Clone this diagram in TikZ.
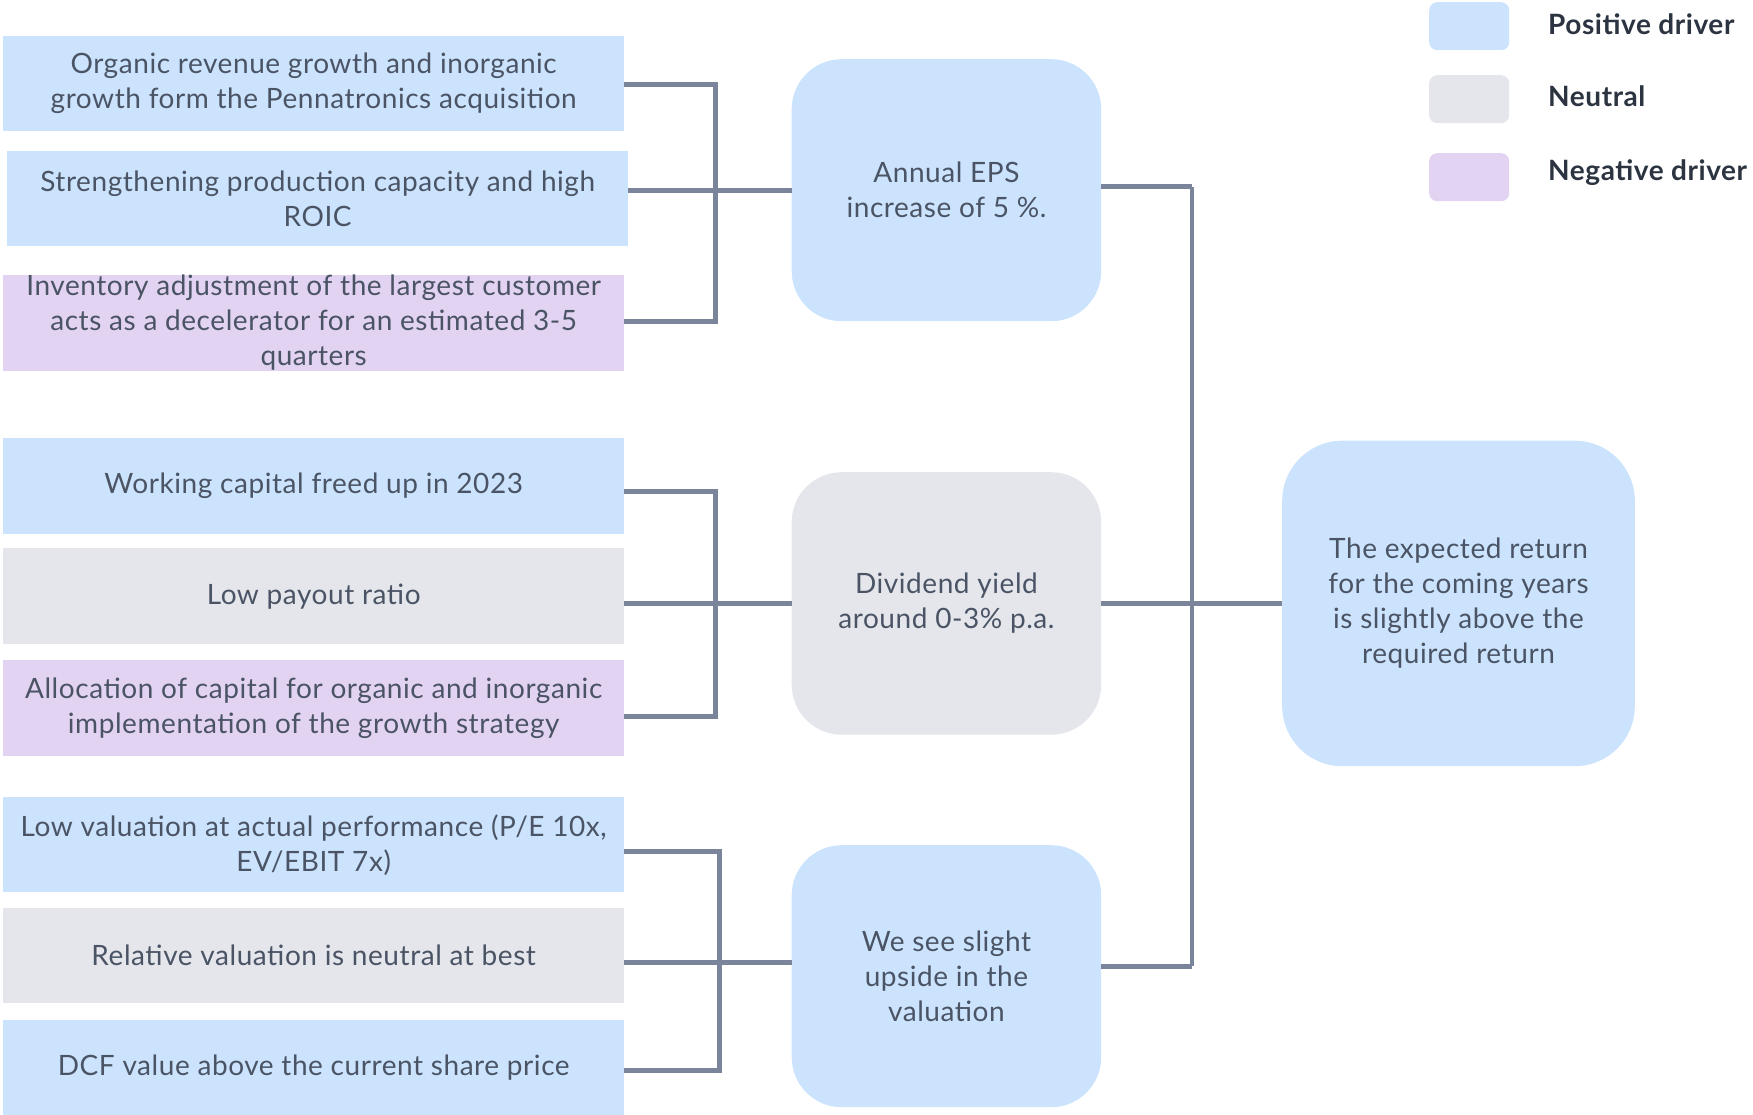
\documentclass[tikz,border=0pt]{standalone}
\usepackage{fontspec}
\setmainfont[LetterSpace=2]{Lato}
\usetikzlibrary{calc}
\definecolor{posc}{HTML}{CCE3FD}
\definecolor{neuc}{HTML}{E4E6EB}
\definecolor{negc}{HTML}{E3D3F3}
\definecolor{linec}{HTML}{7A849A}
\definecolor{txtc}{HTML}{4A5465}
\definecolor{legc}{HTML}{2B3440}
\begin{document}
\begin{tikzpicture}[x=1pt,y=-1pt,
  lbox/.style={anchor=north west, minimum width=621pt, minimum height=95pt, inner sep=0pt, align=center, text=txtc, font=\fontsize{28}{35}\selectfont},
  mbox/.style={anchor=north west, minimum width=309.5pt, minimum height=262pt, inner sep=0pt, rounded corners=50pt, align=center, text=txtc, font=\fontsize{28}{35}\selectfont},
  legsq/.style={anchor=north west, minimum width=80pt, minimum height=48pt, inner sep=0pt, rounded corners=8pt},
  legtx/.style={anchor=west, inner sep=0pt, text=legc, font=\bfseries\fontsize{28}{32}\selectfont},
  conn/.style={draw=linec, line width=5pt},
  thinconn/.style={draw=linec, line width=3.5pt}]
\useasboundingbox (0,0) rectangle (1753,1115);

% left boxes
\node[lbox, fill=posc] (b1) at (3,36) {Organic revenue growth and inorganic\\growth form the Pennatronics acquisition};
\node[lbox, fill=posc] (b2) at (7,151) {Strengthening production capacity and high\\ROIC};
\node[lbox, fill=negc] (b3) at (3,275) {Inventory adjustment of the largest customer\\acts as a decelerator for an estimated 3-5\\quarters};
\node[lbox, fill=posc, minimum height=96pt] (b4) at (3,438) {Working capital freed up in 2023};
\node[lbox, fill=neuc, minimum height=96pt] (b5) at (3,548) {Low payout ratio};
\node[lbox, fill=negc, minimum height=96pt] (b6) at (3,660) {Allocation of capital for organic and inorganic\\implementation of the growth strategy};
\node[lbox, fill=posc] (b7) at (3,797) {Low valuation at actual performance (P/E 10x,\\EV/EBIT 7x)};
\node[lbox, fill=neuc] (b8) at (3,908) {Relative valuation is neutral at best};
\node[lbox, fill=posc] (b9) at (3,1020) {DCF value above the current share price};

% middle boxes
\node[mbox, fill=posc] (eps) at (791.5,59) {Annual EPS\\increase of 5 \%.};
\node[mbox, fill=neuc, minimum height=262.5pt] (div) at (791.5,472) {Dividend yield\\around 0-3\% p.a.};
\node[mbox, fill=posc] (val) at (791.5,845) {We see slight\\upside in the\\valuation};

% final box
\node[mbox, fill=posc, minimum width=352.6pt, minimum height=325.5pt, rounded corners=60pt] (fin) at (1282,440.5) {The expected return\\for the coming years\\is slightly above the\\required return};

% legend
\node[legsq, fill=posc] (l1) at (1429,2) {};
\node[legsq, fill=neuc] (l2) at (1429,75) {};
\node[legsq, fill=negc] (l3) at (1429,153) {};
\node[legtx] (t1) at (1548,24) {Positive driver};
\node[legtx] (t2) at (1548,96) {Neutral};
\node[legtx] (t3) at (1548,173) {Negative driver};

% connectors group 1
\coordinate (g1t) at (715.5,85);
\coordinate (g1b) at (715.5,321);
\draw[conn] (b1.east |- g1t) -- (g1t) -- (g1b) -- (b3.east |- g1b);
\draw[conn] (b2.east |- eps.west) -- (eps.west);

% group 2
\coordinate (g2t) at (715.5,491);
\coordinate (g2b) at (715.5,716.6);
\draw[conn] (b4.east |- g2t) -- (g2t) -- (g2b) -- (b6.east |- g2b);
\draw[conn] (b5.east |- div.west) -- (div.west);

% group 3
\coordinate (g3t) at (719,851);
\coordinate (g3b) at (719,1070);
\coordinate (g3m) at (719,962.6);
\draw[conn] (b7.east |- g3t) -- (g3t) -- (g3b) -- (b9.east |- g3b);
\draw[conn] (b8.east |- g3m) -- (g3m -| val.west);

% right side
\coordinate (r1) at (1192,186.7);
\coordinate (r2) at (1192,966);
\draw[conn] (eps.east |- r1) -- (r1);
\draw[thinconn] (r1) -- (r2);
\draw[conn] (r2) -- (val.east |- r2);
\draw[conn] (div.east) -- (fin.west);
\end{tikzpicture}
\end{document}
